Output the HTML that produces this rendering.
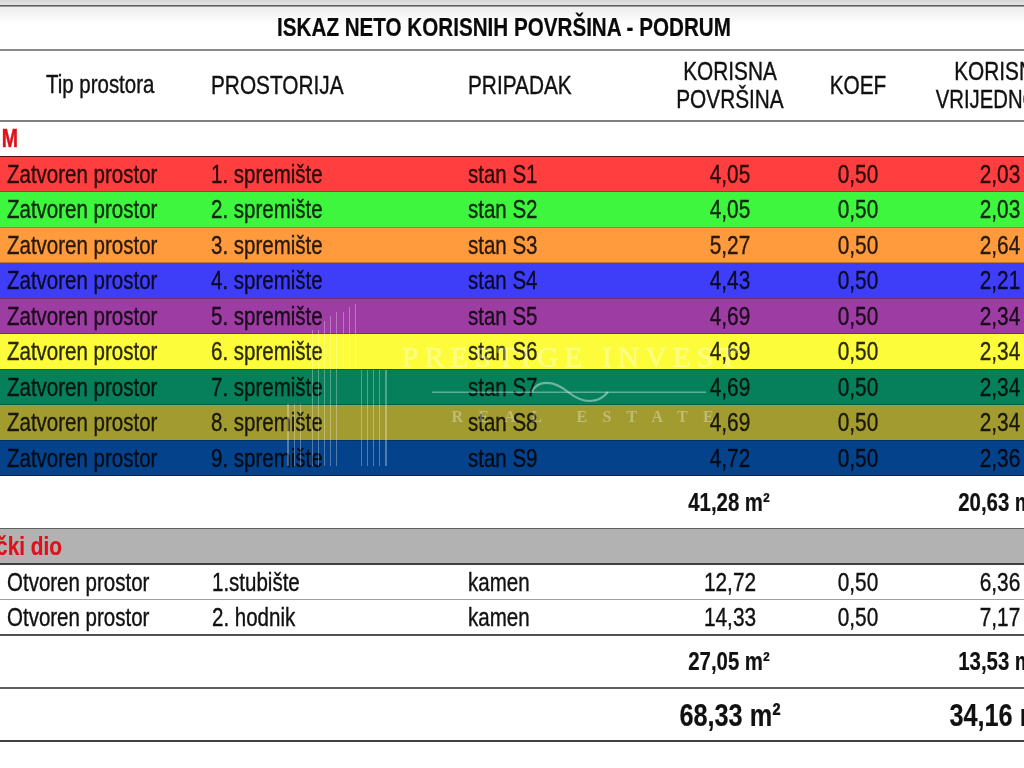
<!DOCTYPE html>
<html><head><meta charset="utf-8"><style>
html,body{margin:0;padding:0;background:#fff;}
body{width:1024px;height:768px;position:relative;overflow:hidden;font-family:"Liberation Sans",sans-serif;}
.bg{position:absolute;left:-20px;width:1064px;}
#w{position:absolute;left:0;top:0;width:1024px;height:768px;filter:blur(0.35px);}
.t{position:absolute;white-space:nowrap;}
</style></head><body><div id="w">
<div class="bg" style="top:156.00px;height:35.50px;background:#ff3f3f;"></div>
<div class="bg" style="top:191.50px;height:35.50px;background:#3ef63e;"></div>
<div class="bg" style="top:227.00px;height:35.50px;background:#ff9b3d;"></div>
<div class="bg" style="top:262.50px;height:35.50px;background:#3e3ef8;"></div>
<div class="bg" style="top:298.00px;height:35.50px;background:#9d3ca2;"></div>
<div class="bg" style="top:333.50px;height:35.50px;background:#fdfc3a;"></div>
<div class="bg" style="top:369.00px;height:35.50px;background:#05805a;"></div>
<div class="bg" style="top:404.50px;height:35.50px;background:#a29b30;"></div>
<div class="bg" style="top:440.00px;height:35.50px;background:#04438c;"></div>
<div class="bg" style="top:528.5px;height:35.5px;background:#b2b2b2;"></div>
<div class="bg" style="top:-20px;height:20px;background:#d6d6d6;"></div>
<div class="bg" style="top:0;height:5px;background:linear-gradient(#d6d6d6,#e4e4e4);"></div>
<div class="bg" style="top:7px;height:17px;background:linear-gradient(#ededed,#ffffff);"></div>
<div class="bg" style="top:5px;height:1px;background:#5c5c5c;"></div>
<div class="bg" style="top:6px;height:1px;background:#9c9c9c;"></div>
<div class="bg" style="top:49px;height:2px;background:#8a8a8a;"></div>
<div class="bg" style="top:120.3px;height:1.6px;background:#808080;"></div>
<div class="bg" style="top:155.6px;height:1.2px;background:#4a1010;"></div>
<div class="bg" style="top:191.0px;height:1px;background:rgba(0,0,0,0.25);"></div>
<div class="bg" style="top:226.5px;height:1px;background:rgba(0,0,0,0.25);"></div>
<div class="bg" style="top:262.0px;height:1px;background:rgba(0,0,0,0.25);"></div>
<div class="bg" style="top:297.5px;height:1px;background:rgba(0,0,0,0.25);"></div>
<div class="bg" style="top:333.0px;height:1px;background:rgba(0,0,0,0.25);"></div>
<div class="bg" style="top:368.5px;height:1px;background:rgba(0,0,0,0.25);"></div>
<div class="bg" style="top:404.0px;height:1px;background:rgba(0,0,0,0.25);"></div>
<div class="bg" style="top:439.5px;height:1px;background:rgba(0,0,0,0.25);"></div>
<div class="bg" style="top:474.6px;height:1.2px;background:#10203a;"></div>
<div class="bg" style="top:527.6px;height:1.8px;background:#606060;"></div>
<div class="bg" style="top:563.2px;height:1.6px;background:#404040;"></div>
<div class="bg" style="top:598.8px;height:1.4px;background:#a0a0a0;"></div>
<div class="bg" style="top:634.2px;height:1.6px;background:#505050;"></div>
<div class="bg" style="top:687.4px;height:1.6px;background:#606060;"></div>
<div class="bg" style="top:740.4px;height:1.6px;background:#404040;"></div>
<div class="t" style="left:204.00px;top:14.84px;width:600px;text-align:center;font-size:25px;line-height:25px;font-weight:bold;color:#0a0a0a;transform:scaleX(0.825);transform-origin:50% 0;-webkit-text-stroke:0.2px currentColor;">ISKAZ NETO KORISNIH POVRŠINA - PODRUM</div>
<div class="t" style="left:46.00px;top:72.34px;width:600px;text-align:left;font-size:25px;line-height:25px;font-weight:normal;color:#111;transform:scaleX(0.818);transform-origin:0 0;-webkit-text-stroke:0.38px currentColor;">Tip prostora</div>
<div class="t" style="left:210.80px;top:72.84px;width:600px;text-align:left;font-size:25px;line-height:25px;font-weight:normal;color:#111;transform:scaleX(0.832);transform-origin:0 0;-webkit-text-stroke:0.38px currentColor;">PROSTORIJA</div>
<div class="t" style="left:467.60px;top:72.84px;width:600px;text-align:left;font-size:25px;line-height:25px;font-weight:normal;color:#111;transform:scaleX(0.832);transform-origin:0 0;-webkit-text-stroke:0.38px currentColor;">PRIPADAK</div>
<div class="t" style="left:430.00px;top:58.54px;width:600px;text-align:center;font-size:25px;line-height:25px;font-weight:normal;color:#111;transform:scaleX(0.832);transform-origin:50% 0;-webkit-text-stroke:0.38px currentColor;">KORISNA</div>
<div class="t" style="left:430.00px;top:86.64px;width:600px;text-align:center;font-size:25px;line-height:25px;font-weight:normal;color:#111;transform:scaleX(0.832);transform-origin:50% 0;-webkit-text-stroke:0.38px currentColor;">POVRŠINA</div>
<div class="t" style="left:557.70px;top:72.84px;width:600px;text-align:center;font-size:25px;line-height:25px;font-weight:normal;color:#111;transform:scaleX(0.832);transform-origin:50% 0;-webkit-text-stroke:0.38px currentColor;">KOEF</div>
<div class="t" style="left:700.50px;top:58.54px;width:600px;text-align:center;font-size:25px;line-height:25px;font-weight:normal;color:#111;transform:scaleX(0.832);transform-origin:50% 0;-webkit-text-stroke:0.38px currentColor;">KORISNA</div>
<div class="t" style="left:699.80px;top:86.64px;width:600px;text-align:center;font-size:25px;line-height:25px;font-weight:normal;color:#111;transform:scaleX(0.812);transform-origin:50% 0;-webkit-text-stroke:0.38px currentColor;">VRIJEDNOST</div>
<div class="t" style="left:-582.00px;top:126.44px;width:600px;text-align:right;font-size:25px;line-height:25px;font-weight:bold;color:#e0101a;transform:scaleX(0.78);transform-origin:100% 0;-webkit-text-stroke:0.5px currentColor;">M</div>
<div class="t" style="left:7.00px;top:161.54px;width:600px;text-align:left;font-size:25px;line-height:25px;font-weight:normal;color:#000;transform:scaleX(0.82);transform-origin:0 0;opacity:0.84;-webkit-text-stroke:0.38px currentColor;">Zatvoren prostor</div>
<div class="t" style="left:211.00px;top:161.54px;width:600px;text-align:left;font-size:25px;line-height:25px;font-weight:normal;color:#000;transform:scaleX(0.82);transform-origin:0 0;opacity:0.84;-webkit-text-stroke:0.38px currentColor;">1. spremište</div>
<div class="t" style="left:467.80px;top:161.54px;width:600px;text-align:left;font-size:25px;line-height:25px;font-weight:normal;color:#000;transform:scaleX(0.82);transform-origin:0 0;opacity:0.84;-webkit-text-stroke:0.38px currentColor;">stan S1</div>
<div class="t" style="left:430.00px;top:161.54px;width:600px;text-align:center;font-size:25px;line-height:25px;font-weight:normal;color:#000;transform:scaleX(0.832);transform-origin:50% 0;opacity:0.84;-webkit-text-stroke:0.38px currentColor;">4,05</div>
<div class="t" style="left:557.70px;top:161.54px;width:600px;text-align:center;font-size:25px;line-height:25px;font-weight:normal;color:#000;transform:scaleX(0.832);transform-origin:50% 0;opacity:0.84;-webkit-text-stroke:0.38px currentColor;">0,50</div>
<div class="t" style="left:699.70px;top:161.54px;width:600px;text-align:center;font-size:25px;line-height:25px;font-weight:normal;color:#000;transform:scaleX(0.832);transform-origin:50% 0;opacity:0.84;-webkit-text-stroke:0.38px currentColor;">2,03</div>
<div class="t" style="left:7.00px;top:197.04px;width:600px;text-align:left;font-size:25px;line-height:25px;font-weight:normal;color:#000;transform:scaleX(0.82);transform-origin:0 0;opacity:0.84;-webkit-text-stroke:0.38px currentColor;">Zatvoren prostor</div>
<div class="t" style="left:211.00px;top:197.04px;width:600px;text-align:left;font-size:25px;line-height:25px;font-weight:normal;color:#000;transform:scaleX(0.82);transform-origin:0 0;opacity:0.84;-webkit-text-stroke:0.38px currentColor;">2. spremište</div>
<div class="t" style="left:467.80px;top:197.04px;width:600px;text-align:left;font-size:25px;line-height:25px;font-weight:normal;color:#000;transform:scaleX(0.82);transform-origin:0 0;opacity:0.84;-webkit-text-stroke:0.38px currentColor;">stan S2</div>
<div class="t" style="left:430.00px;top:197.04px;width:600px;text-align:center;font-size:25px;line-height:25px;font-weight:normal;color:#000;transform:scaleX(0.832);transform-origin:50% 0;opacity:0.84;-webkit-text-stroke:0.38px currentColor;">4,05</div>
<div class="t" style="left:557.70px;top:197.04px;width:600px;text-align:center;font-size:25px;line-height:25px;font-weight:normal;color:#000;transform:scaleX(0.832);transform-origin:50% 0;opacity:0.84;-webkit-text-stroke:0.38px currentColor;">0,50</div>
<div class="t" style="left:699.70px;top:197.04px;width:600px;text-align:center;font-size:25px;line-height:25px;font-weight:normal;color:#000;transform:scaleX(0.832);transform-origin:50% 0;opacity:0.84;-webkit-text-stroke:0.38px currentColor;">2,03</div>
<div class="t" style="left:7.00px;top:232.54px;width:600px;text-align:left;font-size:25px;line-height:25px;font-weight:normal;color:#000;transform:scaleX(0.82);transform-origin:0 0;opacity:0.84;-webkit-text-stroke:0.38px currentColor;">Zatvoren prostor</div>
<div class="t" style="left:211.00px;top:232.54px;width:600px;text-align:left;font-size:25px;line-height:25px;font-weight:normal;color:#000;transform:scaleX(0.82);transform-origin:0 0;opacity:0.84;-webkit-text-stroke:0.38px currentColor;">3. spremište</div>
<div class="t" style="left:467.80px;top:232.54px;width:600px;text-align:left;font-size:25px;line-height:25px;font-weight:normal;color:#000;transform:scaleX(0.82);transform-origin:0 0;opacity:0.84;-webkit-text-stroke:0.38px currentColor;">stan S3</div>
<div class="t" style="left:430.00px;top:232.54px;width:600px;text-align:center;font-size:25px;line-height:25px;font-weight:normal;color:#000;transform:scaleX(0.832);transform-origin:50% 0;opacity:0.84;-webkit-text-stroke:0.38px currentColor;">5,27</div>
<div class="t" style="left:557.70px;top:232.54px;width:600px;text-align:center;font-size:25px;line-height:25px;font-weight:normal;color:#000;transform:scaleX(0.832);transform-origin:50% 0;opacity:0.84;-webkit-text-stroke:0.38px currentColor;">0,50</div>
<div class="t" style="left:699.70px;top:232.54px;width:600px;text-align:center;font-size:25px;line-height:25px;font-weight:normal;color:#000;transform:scaleX(0.832);transform-origin:50% 0;opacity:0.84;-webkit-text-stroke:0.38px currentColor;">2,64</div>
<div class="t" style="left:7.00px;top:268.04px;width:600px;text-align:left;font-size:25px;line-height:25px;font-weight:normal;color:#000;transform:scaleX(0.82);transform-origin:0 0;opacity:0.84;-webkit-text-stroke:0.38px currentColor;">Zatvoren prostor</div>
<div class="t" style="left:211.00px;top:268.04px;width:600px;text-align:left;font-size:25px;line-height:25px;font-weight:normal;color:#000;transform:scaleX(0.82);transform-origin:0 0;opacity:0.84;-webkit-text-stroke:0.38px currentColor;">4. spremište</div>
<div class="t" style="left:467.80px;top:268.04px;width:600px;text-align:left;font-size:25px;line-height:25px;font-weight:normal;color:#000;transform:scaleX(0.82);transform-origin:0 0;opacity:0.84;-webkit-text-stroke:0.38px currentColor;">stan S4</div>
<div class="t" style="left:430.00px;top:268.04px;width:600px;text-align:center;font-size:25px;line-height:25px;font-weight:normal;color:#000;transform:scaleX(0.832);transform-origin:50% 0;opacity:0.84;-webkit-text-stroke:0.38px currentColor;">4,43</div>
<div class="t" style="left:557.70px;top:268.04px;width:600px;text-align:center;font-size:25px;line-height:25px;font-weight:normal;color:#000;transform:scaleX(0.832);transform-origin:50% 0;opacity:0.84;-webkit-text-stroke:0.38px currentColor;">0,50</div>
<div class="t" style="left:699.70px;top:268.04px;width:600px;text-align:center;font-size:25px;line-height:25px;font-weight:normal;color:#000;transform:scaleX(0.832);transform-origin:50% 0;opacity:0.84;-webkit-text-stroke:0.38px currentColor;">2,21</div>
<div class="t" style="left:7.00px;top:303.54px;width:600px;text-align:left;font-size:25px;line-height:25px;font-weight:normal;color:#000;transform:scaleX(0.82);transform-origin:0 0;opacity:0.84;-webkit-text-stroke:0.38px currentColor;">Zatvoren prostor</div>
<div class="t" style="left:211.00px;top:303.54px;width:600px;text-align:left;font-size:25px;line-height:25px;font-weight:normal;color:#000;transform:scaleX(0.82);transform-origin:0 0;opacity:0.84;-webkit-text-stroke:0.38px currentColor;">5. spremište</div>
<div class="t" style="left:467.80px;top:303.54px;width:600px;text-align:left;font-size:25px;line-height:25px;font-weight:normal;color:#000;transform:scaleX(0.82);transform-origin:0 0;opacity:0.84;-webkit-text-stroke:0.38px currentColor;">stan S5</div>
<div class="t" style="left:430.00px;top:303.54px;width:600px;text-align:center;font-size:25px;line-height:25px;font-weight:normal;color:#000;transform:scaleX(0.832);transform-origin:50% 0;opacity:0.84;-webkit-text-stroke:0.38px currentColor;">4,69</div>
<div class="t" style="left:557.70px;top:303.54px;width:600px;text-align:center;font-size:25px;line-height:25px;font-weight:normal;color:#000;transform:scaleX(0.832);transform-origin:50% 0;opacity:0.84;-webkit-text-stroke:0.38px currentColor;">0,50</div>
<div class="t" style="left:699.70px;top:303.54px;width:600px;text-align:center;font-size:25px;line-height:25px;font-weight:normal;color:#000;transform:scaleX(0.832);transform-origin:50% 0;opacity:0.84;-webkit-text-stroke:0.38px currentColor;">2,34</div>
<div class="t" style="left:7.00px;top:339.04px;width:600px;text-align:left;font-size:25px;line-height:25px;font-weight:normal;color:#000;transform:scaleX(0.82);transform-origin:0 0;opacity:0.84;-webkit-text-stroke:0.38px currentColor;">Zatvoren prostor</div>
<div class="t" style="left:211.00px;top:339.04px;width:600px;text-align:left;font-size:25px;line-height:25px;font-weight:normal;color:#000;transform:scaleX(0.82);transform-origin:0 0;opacity:0.84;-webkit-text-stroke:0.38px currentColor;">6. spremište</div>
<div class="t" style="left:467.80px;top:339.04px;width:600px;text-align:left;font-size:25px;line-height:25px;font-weight:normal;color:#000;transform:scaleX(0.82);transform-origin:0 0;opacity:0.84;-webkit-text-stroke:0.38px currentColor;">stan S6</div>
<div class="t" style="left:430.00px;top:339.04px;width:600px;text-align:center;font-size:25px;line-height:25px;font-weight:normal;color:#000;transform:scaleX(0.832);transform-origin:50% 0;opacity:0.84;-webkit-text-stroke:0.38px currentColor;">4,69</div>
<div class="t" style="left:557.70px;top:339.04px;width:600px;text-align:center;font-size:25px;line-height:25px;font-weight:normal;color:#000;transform:scaleX(0.832);transform-origin:50% 0;opacity:0.84;-webkit-text-stroke:0.38px currentColor;">0,50</div>
<div class="t" style="left:699.70px;top:339.04px;width:600px;text-align:center;font-size:25px;line-height:25px;font-weight:normal;color:#000;transform:scaleX(0.832);transform-origin:50% 0;opacity:0.84;-webkit-text-stroke:0.38px currentColor;">2,34</div>
<div class="t" style="left:7.00px;top:374.54px;width:600px;text-align:left;font-size:25px;line-height:25px;font-weight:normal;color:#000;transform:scaleX(0.82);transform-origin:0 0;opacity:0.84;-webkit-text-stroke:0.38px currentColor;">Zatvoren prostor</div>
<div class="t" style="left:211.00px;top:374.54px;width:600px;text-align:left;font-size:25px;line-height:25px;font-weight:normal;color:#000;transform:scaleX(0.82);transform-origin:0 0;opacity:0.84;-webkit-text-stroke:0.38px currentColor;">7. spremište</div>
<div class="t" style="left:467.80px;top:374.54px;width:600px;text-align:left;font-size:25px;line-height:25px;font-weight:normal;color:#000;transform:scaleX(0.82);transform-origin:0 0;opacity:0.84;-webkit-text-stroke:0.38px currentColor;">stan S7</div>
<div class="t" style="left:430.00px;top:374.54px;width:600px;text-align:center;font-size:25px;line-height:25px;font-weight:normal;color:#000;transform:scaleX(0.832);transform-origin:50% 0;opacity:0.84;-webkit-text-stroke:0.38px currentColor;">4,69</div>
<div class="t" style="left:557.70px;top:374.54px;width:600px;text-align:center;font-size:25px;line-height:25px;font-weight:normal;color:#000;transform:scaleX(0.832);transform-origin:50% 0;opacity:0.84;-webkit-text-stroke:0.38px currentColor;">0,50</div>
<div class="t" style="left:699.70px;top:374.54px;width:600px;text-align:center;font-size:25px;line-height:25px;font-weight:normal;color:#000;transform:scaleX(0.832);transform-origin:50% 0;opacity:0.84;-webkit-text-stroke:0.38px currentColor;">2,34</div>
<div class="t" style="left:7.00px;top:410.04px;width:600px;text-align:left;font-size:25px;line-height:25px;font-weight:normal;color:#000;transform:scaleX(0.82);transform-origin:0 0;opacity:0.84;-webkit-text-stroke:0.38px currentColor;">Zatvoren prostor</div>
<div class="t" style="left:211.00px;top:410.04px;width:600px;text-align:left;font-size:25px;line-height:25px;font-weight:normal;color:#000;transform:scaleX(0.82);transform-origin:0 0;opacity:0.84;-webkit-text-stroke:0.38px currentColor;">8. spremište</div>
<div class="t" style="left:467.80px;top:410.04px;width:600px;text-align:left;font-size:25px;line-height:25px;font-weight:normal;color:#000;transform:scaleX(0.82);transform-origin:0 0;opacity:0.84;-webkit-text-stroke:0.38px currentColor;">stan S8</div>
<div class="t" style="left:430.00px;top:410.04px;width:600px;text-align:center;font-size:25px;line-height:25px;font-weight:normal;color:#000;transform:scaleX(0.832);transform-origin:50% 0;opacity:0.84;-webkit-text-stroke:0.38px currentColor;">4,69</div>
<div class="t" style="left:557.70px;top:410.04px;width:600px;text-align:center;font-size:25px;line-height:25px;font-weight:normal;color:#000;transform:scaleX(0.832);transform-origin:50% 0;opacity:0.84;-webkit-text-stroke:0.38px currentColor;">0,50</div>
<div class="t" style="left:699.70px;top:410.04px;width:600px;text-align:center;font-size:25px;line-height:25px;font-weight:normal;color:#000;transform:scaleX(0.832);transform-origin:50% 0;opacity:0.84;-webkit-text-stroke:0.38px currentColor;">2,34</div>
<div class="t" style="left:7.00px;top:445.54px;width:600px;text-align:left;font-size:25px;line-height:25px;font-weight:normal;color:#000;transform:scaleX(0.82);transform-origin:0 0;opacity:0.84;-webkit-text-stroke:0.38px currentColor;">Zatvoren prostor</div>
<div class="t" style="left:211.00px;top:445.54px;width:600px;text-align:left;font-size:25px;line-height:25px;font-weight:normal;color:#000;transform:scaleX(0.82);transform-origin:0 0;opacity:0.84;-webkit-text-stroke:0.38px currentColor;">9. spremište</div>
<div class="t" style="left:467.80px;top:445.54px;width:600px;text-align:left;font-size:25px;line-height:25px;font-weight:normal;color:#000;transform:scaleX(0.82);transform-origin:0 0;opacity:0.84;-webkit-text-stroke:0.38px currentColor;">stan S9</div>
<div class="t" style="left:430.00px;top:445.54px;width:600px;text-align:center;font-size:25px;line-height:25px;font-weight:normal;color:#000;transform:scaleX(0.832);transform-origin:50% 0;opacity:0.84;-webkit-text-stroke:0.38px currentColor;">4,72</div>
<div class="t" style="left:557.70px;top:445.54px;width:600px;text-align:center;font-size:25px;line-height:25px;font-weight:normal;color:#000;transform:scaleX(0.832);transform-origin:50% 0;opacity:0.84;-webkit-text-stroke:0.38px currentColor;">0,50</div>
<div class="t" style="left:699.70px;top:445.54px;width:600px;text-align:center;font-size:25px;line-height:25px;font-weight:normal;color:#000;transform:scaleX(0.832);transform-origin:50% 0;opacity:0.84;-webkit-text-stroke:0.38px currentColor;">2,36</div>
<div class="t" style="left:429.30px;top:490.04px;width:600px;text-align:center;font-size:25px;line-height:25px;font-weight:bold;color:#111;transform:scaleX(0.815);transform-origin:50% 0;-webkit-text-stroke:0.2px currentColor;">41,28 m²</div>
<div class="t" style="left:699.20px;top:490.04px;width:600px;text-align:center;font-size:25px;line-height:25px;font-weight:bold;color:#111;transform:scaleX(0.815);transform-origin:50% 0;-webkit-text-stroke:0.2px currentColor;">20,63 m²</div>
<div class="t" style="left:-538.30px;top:533.84px;width:600px;text-align:right;font-size:25px;line-height:25px;font-weight:bold;color:#e0101a;transform:scaleX(0.832);transform-origin:100% 0;-webkit-text-stroke:0.2px currentColor;">Zajednički dio</div>
<div class="t" style="left:7.20px;top:569.54px;width:600px;text-align:left;font-size:25px;line-height:25px;font-weight:normal;color:#111;transform:scaleX(0.82);transform-origin:0 0;-webkit-text-stroke:0.38px currentColor;">Otvoren prostor</div>
<div class="t" style="left:211.50px;top:569.54px;width:600px;text-align:left;font-size:25px;line-height:25px;font-weight:normal;color:#111;transform:scaleX(0.82);transform-origin:0 0;-webkit-text-stroke:0.38px currentColor;">1.stubište</div>
<div class="t" style="left:468.00px;top:569.54px;width:600px;text-align:left;font-size:25px;line-height:25px;font-weight:normal;color:#111;transform:scaleX(0.82);transform-origin:0 0;-webkit-text-stroke:0.38px currentColor;">kamen</div>
<div class="t" style="left:430.00px;top:569.54px;width:600px;text-align:center;font-size:25px;line-height:25px;font-weight:normal;color:#111;transform:scaleX(0.832);transform-origin:50% 0;-webkit-text-stroke:0.38px currentColor;">12,72</div>
<div class="t" style="left:557.70px;top:569.54px;width:600px;text-align:center;font-size:25px;line-height:25px;font-weight:normal;color:#111;transform:scaleX(0.832);transform-origin:50% 0;-webkit-text-stroke:0.38px currentColor;">0,50</div>
<div class="t" style="left:699.50px;top:569.54px;width:600px;text-align:center;font-size:25px;line-height:25px;font-weight:normal;color:#111;transform:scaleX(0.832);transform-origin:50% 0;-webkit-text-stroke:0.38px currentColor;">6,36</div>
<div class="t" style="left:7.20px;top:604.54px;width:600px;text-align:left;font-size:25px;line-height:25px;font-weight:normal;color:#111;transform:scaleX(0.82);transform-origin:0 0;-webkit-text-stroke:0.38px currentColor;">Otvoren prostor</div>
<div class="t" style="left:211.50px;top:604.54px;width:600px;text-align:left;font-size:25px;line-height:25px;font-weight:normal;color:#111;transform:scaleX(0.82);transform-origin:0 0;-webkit-text-stroke:0.38px currentColor;">2. hodnik</div>
<div class="t" style="left:468.00px;top:604.54px;width:600px;text-align:left;font-size:25px;line-height:25px;font-weight:normal;color:#111;transform:scaleX(0.82);transform-origin:0 0;-webkit-text-stroke:0.38px currentColor;">kamen</div>
<div class="t" style="left:430.00px;top:604.54px;width:600px;text-align:center;font-size:25px;line-height:25px;font-weight:normal;color:#111;transform:scaleX(0.832);transform-origin:50% 0;-webkit-text-stroke:0.38px currentColor;">14,33</div>
<div class="t" style="left:557.70px;top:604.54px;width:600px;text-align:center;font-size:25px;line-height:25px;font-weight:normal;color:#111;transform:scaleX(0.832);transform-origin:50% 0;-webkit-text-stroke:0.38px currentColor;">0,50</div>
<div class="t" style="left:699.50px;top:604.54px;width:600px;text-align:center;font-size:25px;line-height:25px;font-weight:normal;color:#111;transform:scaleX(0.832);transform-origin:50% 0;-webkit-text-stroke:0.38px currentColor;">7,17</div>
<div class="t" style="left:429.30px;top:648.74px;width:600px;text-align:center;font-size:25px;line-height:25px;font-weight:bold;color:#111;transform:scaleX(0.815);transform-origin:50% 0;-webkit-text-stroke:0.2px currentColor;">27,05 m²</div>
<div class="t" style="left:699.20px;top:648.74px;width:600px;text-align:center;font-size:25px;line-height:25px;font-weight:bold;color:#111;transform:scaleX(0.815);transform-origin:50% 0;-webkit-text-stroke:0.2px currentColor;">13,53 m²</div>
<div class="t" style="left:429.50px;top:698.51px;width:600px;text-align:center;font-size:32px;line-height:32px;font-weight:bold;color:#111;transform:scaleX(0.79);transform-origin:50% 0;-webkit-text-stroke:0.2px currentColor;">68,33 m²</div>
<div class="t" style="left:700.00px;top:698.51px;width:600px;text-align:center;font-size:32px;line-height:32px;font-weight:bold;color:#111;transform:scaleX(0.79);transform-origin:50% 0;-webkit-text-stroke:0.2px currentColor;">34,16 m²</div>
<div style="position:absolute;left:287.3px;top:404px;width:1.6px;height:62px;background:rgba(255,255,255,0.3);"></div>
<div style="position:absolute;left:293.8px;top:404px;width:1.6px;height:62px;background:rgba(255,255,255,0.3);"></div>
<div style="position:absolute;left:299.9px;top:404px;width:1.6px;height:62px;background:rgba(255,255,255,0.3);"></div>
<div style="position:absolute;left:311.9px;top:330px;width:1.6px;height:136px;background:rgba(255,255,255,0.3);"></div>
<div style="position:absolute;left:317.8px;top:330px;width:1.6px;height:136px;background:rgba(255,255,255,0.3);"></div>
<div style="position:absolute;left:323.9px;top:321px;width:1.6px;height:145px;background:rgba(255,255,255,0.3);"></div>
<div style="position:absolute;left:329.9px;top:316px;width:1.6px;height:150px;background:rgba(255,255,255,0.3);"></div>
<div style="position:absolute;left:335.9px;top:312px;width:1.6px;height:154px;background:rgba(255,255,255,0.3);"></div>
<div style="position:absolute;left:342.5px;top:312px;width:1.6px;height:57px;background:rgba(255,255,255,0.3);"></div>
<div style="position:absolute;left:348.7px;top:307px;width:1.6px;height:62px;background:rgba(255,255,255,0.3);"></div>
<div style="position:absolute;left:354.8px;top:304px;width:1.6px;height:65px;background:rgba(255,255,255,0.3);"></div>
<div style="position:absolute;left:360.8px;top:370px;width:1.6px;height:96px;background:rgba(255,255,255,0.3);"></div>
<div style="position:absolute;left:366.8px;top:370px;width:1.6px;height:96px;background:rgba(255,255,255,0.3);"></div>
<div style="position:absolute;left:372.7px;top:370px;width:1.6px;height:96px;background:rgba(255,255,255,0.3);"></div>
<div style="position:absolute;left:378.9px;top:370px;width:1.6px;height:96px;background:rgba(255,255,255,0.3);"></div>
<div style="position:absolute;left:385.0px;top:370px;width:1.6px;height:96px;background:rgba(255,255,255,0.3);"></div>
<div id="wm1" style="position:absolute;left:402px;top:341.3px;font-family:'Liberation Serif',serif;font-weight:normal;font-size:29.5px;line-height:32px;letter-spacing:6.1px;color:#fff;opacity:0.36;-webkit-text-stroke:0.7px #fff;white-space:nowrap;">PRESTIGE INVEST</div>
<div id="wm2" style="position:absolute;left:451.5px;top:407.5px;font-family:'Liberation Serif',serif;font-weight:bold;font-size:16px;line-height:18px;letter-spacing:15.3px;color:rgba(255,255,255,0.32);white-space:nowrap;">REAL&nbsp;ESTATE</div>
<svg style="position:absolute;left:0;top:0" width="1024" height="768"><path d="M432 392.3 H706" stroke="rgba(255,255,255,0.36)" stroke-width="1.5" fill="none"/><path d="M532 391.6 C538 380, 553 380, 568 392 C583 404, 598 404, 608 392" stroke="rgba(255,255,255,0.42)" stroke-width="2.2" fill="none"/></svg>
</div></body></html>
